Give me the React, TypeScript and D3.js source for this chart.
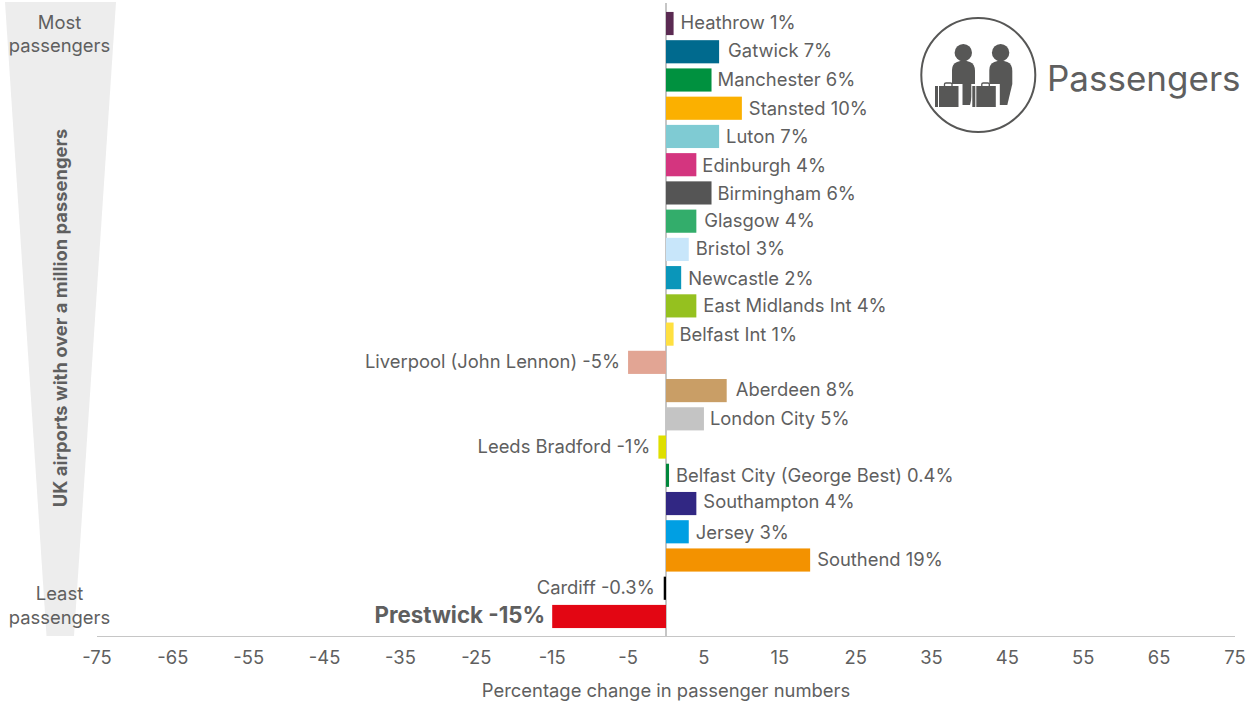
import React from "react";
import * as d3 from "d3";

const airports = ["Heathrow","Gatwick","Manchester","Stansted","Luton","Edinburgh","Birmingham","Glasgow","Bristol","Newcastle","East Midlands Int","Belfast Int","Liverpool (John Lennon)","Aberdeen","London City","Leeds Bradford","Belfast City (George Best)","Southampton","Jersey","Southend","Cardiff","Prestwick"];
const changes = [1,7,6,10,7,4,6,4,3,2,4,1,-5,8,5,-1,0.4,4,3,19,-0.3,-15];
const barColours = ["#5a2a52","#006a8e","#00913f","#fbb000","#7fcbd3","#d4357f","#555555","#33ad6b","#c8e6fa","#0a96ba","#95c11f","#ffe040","#e2a594","#c99e66","#c4c4c4","#dfdf00","#00873c","#312783","#009fe3","#f39200","#000000","#e30613"];
const tickValues = [-75,-65,-55,-45,-35,-25,-15,-5,5,15,25,35,45,55,65,75];

// Hand placement of the labels relative to their bars
const labelShiftX = [0,2,-1,0,0,-1,-1,1,0,0,0,-1,0,2,-1,0,0,0,0,0,-1,1];
const labelShiftY = [-1,-1,0,0,0,1,1,-1,-1,1,0,0,-1,-1,0,-1,0,-2,1,0,-1,-1];

const FONT = "Inter, 'Noto Sans', sans-serif";
const TEXT = "#5f5f5f";
const ICON = "#575756";
const FS = 18.4;

// One traveller with a suitcase; the white strip keeps the case apart from the body
function Person({ x }: { x: number }) {
  return (
    <g transform={`translate(${x},0)`} fill={ICON}>
      <circle cx={963.3} cy={52.7} r={8.7} />
      <path d="M957 62 Q963.5 59.5 970 62 Q975 64 975 71 L975 84 L970 105 L952 105 L952 70 Q952 64 957 62Z" />
      <rect x={934} y={84} width={28.5} height={24} fill="#fff" />
      <rect x={935} y={86} width={23.5} height={21} />
      <path d="M944.5 86 L944.5 84 Q944.5 83 946 83 L950.5 83 Q952 83 952 84 L952 86" fill="none" stroke={ICON} strokeWidth={1.3} />
      <rect x={938} y={86} width={1} height={21} fill="#fff" />
    </g>
  );
}

export default function App() {
  const x = d3.scaleLinear().domain([-75, 75]).range([97, 1235]);
  const y = d3.scaleBand<string>().domain(airports).range([9.4, 630.6]).paddingInner(0.18).paddingOuter(0.09);
  const zero = x(0);
  const axisY = 636.5;

  return (
    <svg width={1256} height={703} style={{ position: "absolute", left: 0, top: 0, fontFamily: FONT }}>
      <path d="M5 2 L116 2 L74 636 L46.5 636 Z" fill="#ededed" />
      <g fill={TEXT} fontSize={FS} textAnchor="middle">
        <text x={59.5} y={29}>Most</text>
        <text x={59.5} y={52}>passengers</text>
        <text x={59.5} y={600}>Least</text>
        <text x={59.5} y={624}>passengers</text>
      </g>
      <text transform="translate(67,318) rotate(-90)" fill={TEXT} fontSize={FS} fontWeight={700} textAnchor="middle">UK airports with over a million passengers</text>

      <line x1={zero} x2={zero} y1={3} y2={axisY} stroke="#c6c6c6" strokeWidth={2} />
      <line x1={97} x2={1235} y1={axisY} y2={axisY} stroke="#c6c6c6" strokeWidth={1.2} />

      {airports.map((name, i) => {
        const v = changes[i];
        const cy = y(name)! + y.bandwidth() / 2;
        const bold = name === "Prestwick";
        const right = v >= 0;
        return (
          <g key={name}>
            <rect x={x(Math.min(0, v))} y={y(name)} width={Math.abs(x(v) - zero)} height={y.bandwidth()} fill={barColours[i]} />
            <text
              x={x(v) + (right ? 7 : -8) + labelShiftX[i]}
              y={cy + labelShiftY[i]}
              dy="0.35em"
              textAnchor={right ? "start" : "end"}
              fill={TEXT}
              fontSize={bold ? 22.3 : FS}
              fontWeight={bold ? 700 : 400}
            >{`${name} ${v}%`}</text>
          </g>
        );
      })}

      {tickValues.map((t) => (
        <text key={t} x={x(t)} y={664} textAnchor="middle" fill={TEXT} fontSize={FS}>{t}</text>
      ))}
      <text x={666} y={697} textAnchor="middle" fill={TEXT} fontSize={FS}>Percentage change in passenger numbers</text>

      <circle cx={978.3} cy={75} r={57} fill="#fff" stroke={ICON} strokeWidth={2} />
      <Person x={0} />
      <Person x={37.3} />
      <text x={1047} y={90.5} fill={TEXT} fontSize={35}>Passengers</text>
    </svg>
  );
}
